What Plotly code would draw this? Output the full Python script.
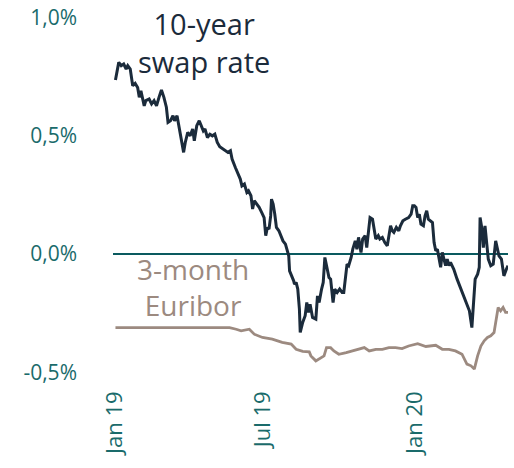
import plotly.graph_objects as go

swap_dates = [
    "2019-01-02", "2019-01-06", "2019-01-09", "2019-01-12", "2019-01-15", "2019-01-17", "2019-01-20",
    "2019-01-23", "2019-01-26", "2019-01-29", "2019-01-31", "2019-02-02", "2019-02-06", "2019-02-08",
    "2019-02-12", "2019-02-15", "2019-02-18", "2019-02-21", "2019-02-24", "2019-02-27", "2019-03-02",
    "2019-03-05", "2019-03-07", "2019-03-10", "2019-03-13", "2019-03-15", "2019-03-18", "2019-03-20",
    "2019-03-22", "2019-03-24", "2019-03-26", "2019-03-28", "2019-03-31", "2019-04-03", "2019-04-06",
    "2019-04-08", "2019-04-11", "2019-04-14", "2019-04-17", "2019-04-19", "2019-04-21", "2019-04-24",
    "2019-04-27", "2019-04-30", "2019-05-03", "2019-05-06", "2019-05-09", "2019-05-13", "2019-05-19",
    "2019-05-22", "2019-05-24", "2019-05-28", "2019-05-31", "2019-06-03", "2019-06-05", "2019-06-08",
    "2019-06-11", "2019-06-13", "2019-06-16", "2019-06-18", "2019-06-20", "2019-06-23", "2019-06-26",
    "2019-06-29", "2019-07-02", "2019-07-04", "2019-07-06", "2019-07-08", "2019-07-10", "2019-07-11",
    "2019-07-13", "2019-07-15", "2019-07-17", "2019-07-20", "2019-07-23", "2019-07-25", "2019-07-28",
    "2019-07-30", "2019-08-01", "2019-08-02", "2019-08-05", "2019-08-07", "2019-08-08", "2019-08-10",
    "2019-08-12", "2019-08-14", "2019-08-15", "2019-08-18", "2019-08-21", "2019-08-23", "2019-08-25",
    "2019-08-27", "2019-08-30", "2019-09-03", "2019-09-05", "2019-09-07", "2019-09-10", "2019-09-12",
    "2019-09-14", "2019-09-17", "2019-09-19", "2019-09-21", "2019-09-24", "2019-09-26", "2019-09-29",
    "2019-10-02", "2019-10-05", "2019-10-07", "2019-10-09", "2019-10-11", "2019-10-13", "2019-10-16",
    "2019-10-18", "2019-10-21", "2019-10-23", "2019-10-25", "2019-10-28", "2019-10-30", "2019-11-02",
    "2019-11-04", "2019-11-06", "2019-11-08", "2019-11-11", "2019-11-13", "2019-11-15", "2019-11-18",
    "2019-11-20", "2019-11-23", "2019-11-26", "2019-11-29", "2019-12-01", "2019-12-03", "2019-12-05",
    "2019-12-07", "2019-12-10", "2019-12-13", "2019-12-15", "2019-12-18", "2019-12-21", "2019-12-25",
    "2019-12-28", "2019-12-30", "2020-01-01", "2020-01-03", "2020-01-05", "2020-01-07", "2020-01-09",
    "2020-01-12", "2020-01-14", "2020-01-16", "2020-01-18", "2020-01-21", "2020-01-23", "2020-01-25",
    "2020-01-27", "2020-01-29", "2020-01-31", "2020-02-02", "2020-02-04", "2020-02-06", "2020-02-08",
    "2020-02-10", "2020-02-12", "2020-02-14", "2020-02-18", "2020-02-22", "2020-02-26", "2020-02-28",
    "2020-03-01", "2020-03-05", "2020-03-08", "2020-03-11", "2020-03-13", "2020-03-15", "2020-03-18",
    "2020-03-20", "2020-03-21", "2020-03-23", "2020-03-25", "2020-03-27", "2020-03-29", "2020-03-31",
    "2020-04-03", "2020-04-06", "2020-04-09", "2020-04-11", "2020-04-13", "2020-04-16", "2020-04-19",
    "2020-04-22", "2020-04-24",
]
swap_values = [
    0.737, 0.812, 0.798, 0.805, 0.784, 0.798, 0.784,
    0.713, 0.723, 0.706, 0.664, 0.692, 0.628, 0.650,
    0.657, 0.636, 0.650, 0.628, 0.664, 0.695, 0.664,
    0.622, 0.558, 0.565, 0.586, 0.565, 0.586, 0.544,
    0.501, 0.473, 0.431, 0.473, 0.516, 0.501, 0.530,
    0.480, 0.544, 0.565, 0.537, 0.522, 0.530, 0.494,
    0.508, 0.501, 0.508, 0.473, 0.455, 0.445, 0.431,
    0.438, 0.403, 0.367, 0.346, 0.318, 0.289, 0.297,
    0.261, 0.268, 0.247, 0.191, 0.226, 0.212, 0.198,
    0.177, 0.155, 0.078, 0.113, 0.106, 0.162, 0.233,
    0.212, 0.169, 0.113, 0.099, 0.071, 0.056, 0.042,
    0.021, -0.007, -0.071, -0.092, -0.113, -0.127, -0.120,
    -0.148, -0.233, -0.332, -0.289, -0.261, -0.205, -0.247,
    -0.212, -0.268, -0.275, -0.177, -0.205, -0.148, -0.120,
    -0.014, -0.064, -0.099, -0.106, -0.205, -0.148, -0.162,
    -0.148, -0.162, -0.162, -0.085, -0.042, -0.049, -0.014,
    0.021, 0.056, 0.021, 0.071, 0.007, 0.064, 0.078,
    0.028, 0.092, 0.155, 0.148, 0.099, 0.064, 0.078,
    0.064, 0.071, 0.049, 0.035, 0.078, 0.120, 0.099,
    0.092, 0.113, 0.099, 0.120, 0.141, 0.148, 0.155,
    0.169, 0.205, 0.205, 0.198, 0.155, 0.169, 0.127,
    0.120, 0.162, 0.184, 0.148, 0.141, 0.134, 0.049,
    0.014, 0.021, -0.028, -0.056, 0.007, -0.028, -0.049,
    -0.021, -0.049, -0.035, -0.064, -0.106, -0.141, -0.155,
    -0.177, -0.212, -0.240, -0.311, -0.205, -0.106, -0.085,
    -0.056, 0.155, 0.113, 0.028, 0.120, 0.049, -0.021,
    -0.049, -0.042, 0.056, 0.028, -0.007, -0.021, -0.092,
    -0.064, -0.049,
]

euribor_dates = [
    "2019-01-02", "2019-05-21", "2019-05-29", "2019-06-04", "2019-06-14", "2019-06-20", "2019-06-30",
    "2019-07-12", "2019-07-24", "2019-08-04", "2019-08-10", "2019-08-18", "2019-08-26", "2019-08-28",
    "2019-09-03", "2019-09-09", "2019-09-13", "2019-09-16", "2019-09-21", "2019-09-25", "2019-10-01",
    "2019-10-10", "2019-10-18", "2019-10-26", "2019-11-01", "2019-11-07", "2019-11-15", "2019-11-23",
    "2019-12-01", "2019-12-09", "2019-12-17", "2019-12-25", "2020-01-05", "2020-01-15", "2020-01-27",
    "2020-02-04", "2020-02-12", "2020-02-20", "2020-02-28", "2020-03-05", "2020-03-10", "2020-03-14",
    "2020-03-18", "2020-03-22", "2020-03-26", "2020-03-30", "2020-04-03", "2020-04-07", "2020-04-10",
    "2020-04-12", "2020-04-15", "2020-04-18", "2020-04-21", "2020-04-24",
]
euribor_values = [
    -0.311, -0.311, -0.318, -0.325, -0.318, -0.339, -0.353,
    -0.360, -0.374, -0.381, -0.403, -0.412, -0.414, -0.431,
    -0.452, -0.438, -0.431, -0.396, -0.396, -0.410, -0.424,
    -0.417, -0.410, -0.403, -0.396, -0.410, -0.403, -0.403,
    -0.396, -0.396, -0.400, -0.389, -0.379, -0.391, -0.386,
    -0.403, -0.403, -0.410, -0.424, -0.466, -0.473, -0.487,
    -0.431, -0.389, -0.367, -0.353, -0.346, -0.332, -0.261,
    -0.226, -0.240, -0.226, -0.247, -0.247,
]

y_tickvals = [-0.5, 0.0, 0.5, 1.0]
y_ticktext = ["-0,5%", "0,0%", "0,5%", "1,0%"]
x_tickvals = ["2019-01-01", "2019-07-01", "2020-01-01"]
x_ticktext = ["Jan 19", "Jul 19", "Jan 20"]

NAVY = "#1b2b3b"
TAUPE = "#9c8a80"
TEAL = "#0a5a5f"
TICK = "#1a6b6b"
FONT = "Open Sans"

fig = go.Figure()
fig.add_trace(go.Scatter(x=euribor_dates, y=euribor_values, mode="lines",
                         line=dict(color=TAUPE, width=2.8), showlegend=False))
fig.add_trace(go.Scatter(x=swap_dates, y=swap_values, mode="lines",
                         line=dict(color=NAVY, width=3), showlegend=False))

fig.add_annotation(x="2019-04-20", y=0.895, text="10-year<br>swap rate", showarrow=False,
                   font=dict(family=FONT, size=29, color=NAVY), xanchor="center", yanchor="middle")
fig.add_annotation(x="2019-04-07", y=-0.14, text="3-month<br>Euribor", showarrow=False,
                   font=dict(family=FONT, size=28, color=TAUPE), xanchor="center", yanchor="middle")

fig.update_layout(
    width=514, height=468,
    margin=dict(l=113, r=6, t=18, b=84),
    paper_bgcolor="white", plot_bgcolor="white",
    font=dict(family=FONT, color=TICK),
    separators=", ",
)
fig.update_xaxes(range=["2018-12-30", "2020-04-24"], tickvals=x_tickvals, ticktext=x_ticktext,
                 tickangle=-90, showgrid=False, showline=False, zeroline=False, ticks="",
                 tickfont=dict(family=FONT, size=22, color=TICK), ticklabelstandoff=2,
                 automargin=False)
fig.update_yaxes(range=[-0.55, 1.0], tickvals=y_tickvals, ticktext=y_ticktext,
                 showgrid=False, showline=False, ticks="",
                 zeroline=True, zerolinecolor=TEAL, zerolinewidth=2,
                 tickfont=dict(family=FONT, size=21, color=TICK), ticklabelstandoff=35,
                 automargin=False)

fig.write_html("out.html", config={"displayModeBar": False},
               post_script="document.body.style.margin='0px';")
